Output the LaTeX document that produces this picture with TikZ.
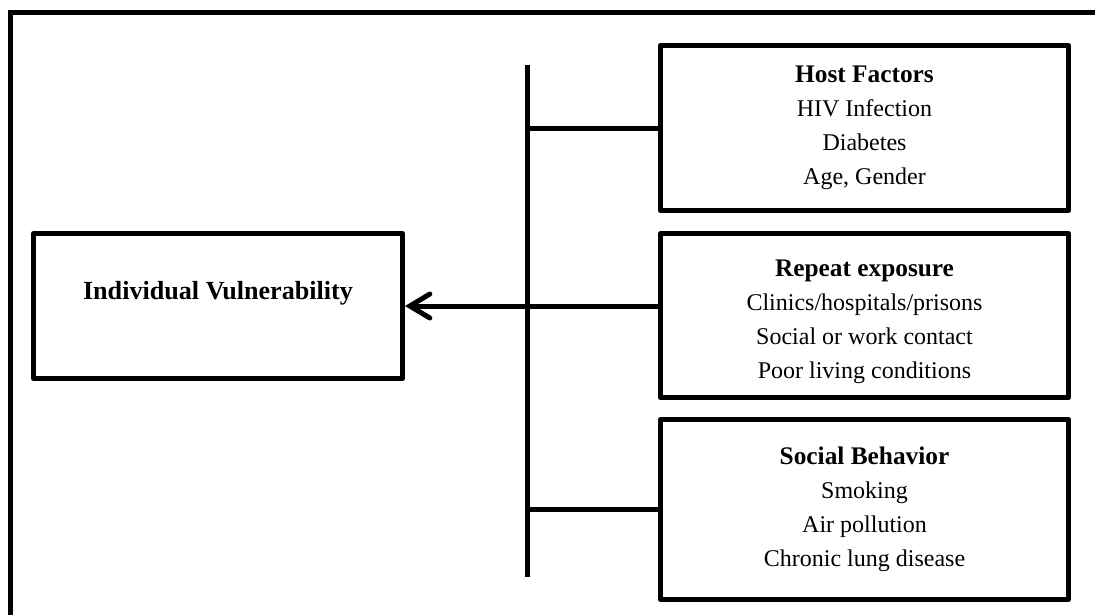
\documentclass[tikz,border=0pt]{standalone}
\usepackage{fontspec}
\setmainfont{Liberation Serif}
\usetikzlibrary{arrows.meta}

\newcommand{\headline}[1]{{\fontsize{19}{25.5}\selectfont\bfseries #1}}

\begin{document}
\begin{tikzpicture}[x=0.75pt, y=-0.75pt,
    frame/.style={draw=black,line width=3.75pt},
    connection/.style={draw=black,line width=3.75pt},
    arrowline/.style={draw=black,line width=3.75pt,-{Straight Barb[length=15pt,width=18pt,line cap=round]}},
    factorBox/.style={rectangle,draw=black,line width=3.75pt,line join=round,minimum width=306pt,align=center,inner sep=0pt,font=\fontsize{18}{25.5}\selectfont},
    mainBox/.style={rectangle,draw=black,line width=3.75pt,line join=round,minimum width=276.75pt,minimum height=108.75pt,inner sep=0pt,text height=13pt,text depth=23.5pt,font=\fontsize{19.6}{25.5}\selectfont\bfseries},
]

	\def\spine{527.5};
	\def\rcol{864.5};

	\clip (0,0) rectangle (1095,614);
	\draw[frame] (10.5,12.5) rectangle (1120,640);

	\node[mainBox](vuln) at(218,306){Individual Vulnerability};

	\node[factorBox,minimum height=123.75pt](host) at(\rcol,128){\headline{Host Factors}\\HIV Infection\\Diabetes\\Age, Gender};
	\node[factorBox,minimum height=123pt](repeat) at(\rcol,315.5){\rule{0pt}{22pt}\headline{Repeat exposure}\\Clinics/hospitals/prisons\\Social or work contact\\Poor living conditions};
	\node[factorBox,minimum height=135pt](social) at(\rcol,509.5){\headline{Social Behavior}\\Smoking\\Air pollution\\Chronic lung disease};

	\coordinate(spinetop) at(\spine,65);
	\coordinate(spinebot) at(\spine,577);

	\draw[connection](spinetop)--(spinebot);
	\draw[connection](host.west)--(host.west -| spinetop);
	\draw[connection](social.west)--(social.west -| spinetop);
	\draw[arrowline](vuln.east -| repeat.west)--(vuln.east);

\end{tikzpicture}
\end{document}
